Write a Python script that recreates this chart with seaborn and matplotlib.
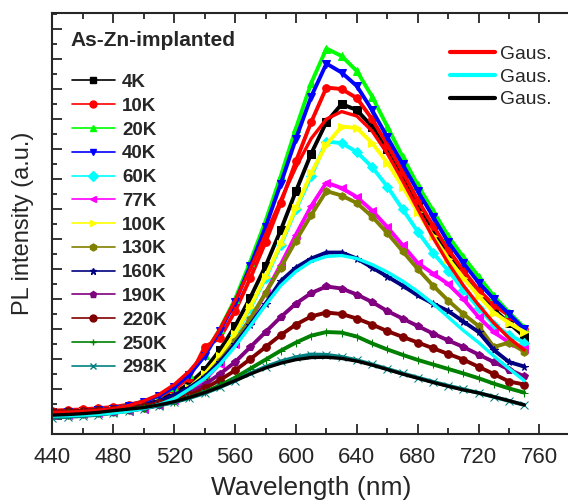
import numpy as np
import pandas as pd
import matplotlib
matplotlib.use("Agg")
import matplotlib.pyplot as plt
from matplotlib.lines import Line2D
import seaborn as sns

# wavelength grid (nm) and PL intensity (a.u.)
wl = [440, 450, 460, 470, 480, 490, 500, 510, 520, 530, 540, 550, 560, 570, 580, 590,
      600, 610, 620, 630, 640, 650, 660, 670, 680, 690, 700, 710, 720, 730, 740, 750]

k4 = [0.22, 0.24, 0.26, 0.30, 0.34, 0.41, 0.50, 0.64, 0.86, 1.18, 1.65, 2.30, 3.10, 4.05, 5.10, 6.30,
      7.60, 8.85, 9.90, 10.50, 10.30, 9.75, 9.00, 8.10, 7.15, 6.30, 5.50, 4.85, 4.20, 3.65, 3.20, 2.75]
k10 = [0.28, 0.30, 0.32, 0.36, 0.40, 0.48, 0.58, 0.75, 1.00, 1.38, 2.40, 2.70, 3.60, 4.70, 5.90, 7.20,
       8.60, 9.90, 11.05, 11.00, 10.70, 10.00, 9.15, 8.25, 7.30, 6.45, 5.65, 4.95, 4.30, 3.80, 3.45, 3.00]
k20 = [0.20, 0.22, 0.25, 0.30, 0.35, 0.45, 0.58, 0.78, 1.08, 1.50, 2.15, 3.00, 4.00, 5.25, 6.60, 8.10,
       9.70, 11.20, 12.35, 12.10, 11.60, 10.75, 9.75, 8.75, 7.80, 6.95, 6.10, 5.40, 4.75, 4.10, 3.55, 3.05]
k40 = [0.20, 0.22, 0.25, 0.30, 0.35, 0.45, 0.58, 0.78, 1.07, 1.48, 2.10, 2.95, 3.90, 5.10, 6.40, 7.85,
       9.35, 10.75, 11.85, 11.55, 11.10, 10.30, 9.40, 8.50, 7.60, 6.75, 5.90, 5.20, 4.55, 4.00, 3.50, 3.00]
k60 = [0.15, 0.17, 0.19, 0.22, 0.26, 0.32, 0.40, 0.52, 0.72, 1.00, 1.45, 2.05, 2.80, 3.70, 4.70, 5.80,
       7.00, 8.10, 9.25, 9.20, 8.90, 8.40, 7.75, 7.00, 6.25, 5.55, 4.95, 4.30, 3.70, 3.15, 2.80, 2.55]
k77 = [0.12, 0.14, 0.16, 0.19, 0.23, 0.28, 0.35, 0.46, 0.64, 0.90, 1.30, 1.85, 2.50, 3.30, 4.20, 5.15,
       6.15, 7.10, 7.88, 7.70, 7.40, 6.95, 6.40, 5.80, 5.20, 4.85, 4.50, 4.00, 3.40, 2.90, 2.55, 2.35]
k100 = [0.18, 0.20, 0.22, 0.25, 0.29, 0.35, 0.43, 0.55, 0.75, 1.05, 1.50, 2.10, 2.85, 3.75, 4.75, 5.85,
        7.05, 8.20, 9.15, 9.75, 9.70, 9.20, 8.55, 7.75, 6.90, 6.10, 5.35, 4.70, 4.10, 3.55, 3.20, 2.90]
k130 = [0.12, 0.14, 0.16, 0.19, 0.23, 0.29, 0.37, 0.50, 0.70, 0.98, 1.40, 1.95, 2.60, 3.35, 4.20, 5.05,
        5.95, 6.80, 7.60, 7.45, 7.20, 6.75, 6.20, 5.60, 5.00, 4.45, 3.95, 3.50, 3.10, 2.40, 2.55, 2.25]
k160 = [0.12, 0.14, 0.17, 0.21, 0.27, 0.35, 0.46, 0.60, 0.80, 1.05, 1.40, 1.90, 2.50, 3.15, 3.85, 4.60,
        5.05, 5.35, 5.55, 5.55, 5.35, 5.05, 4.75, 4.45, 4.12, 3.85, 3.60, 3.25, 2.90, 2.30, 1.90, 1.75]
k190 = [0.15, 0.16, 0.18, 0.21, 0.25, 0.30, 0.37, 0.47, 0.62, 0.85, 1.15, 1.50, 1.90, 2.40, 2.90, 3.40,
        3.85, 4.20, 4.42, 4.35, 4.15, 3.90, 3.60, 3.35, 3.10, 2.85, 2.62, 2.40, 2.15, 1.90, 1.65, 1.42]
k220 = [0.25, 0.26, 0.28, 0.30, 0.33, 0.38, 0.44, 0.53, 0.65, 0.80, 1.02, 1.30, 1.62, 2.00, 2.40, 2.80,
        3.15, 3.42, 3.55, 3.50, 3.35, 3.15, 2.93, 2.74, 2.55, 2.36, 2.17, 1.98, 1.74, 1.50, 1.25, 1.15]
k250 = [0.20, 0.21, 0.23, 0.25, 0.28, 0.32, 0.38, 0.46, 0.57, 0.72, 0.90, 1.12, 1.38, 1.68, 1.98, 2.28,
        2.55, 2.78, 2.90, 2.88, 2.75, 2.52, 2.32, 2.14, 1.97, 1.82, 1.67, 1.52, 1.36, 1.18, 1.02, 0.88]
k298 = [0.05, 0.07, 0.10, 0.14, 0.20, 0.27, 0.35, 0.45, 0.56, 0.70, 0.86, 1.06, 1.28, 1.52, 1.74, 1.92,
        2.06, 2.15, 2.14, 2.07, 1.96, 1.82, 1.67, 1.52, 1.38, 1.24, 1.11, 0.99, 0.87, 0.74, 0.60, 0.47]

# Gaussian fits
fit_red = [0.22, 0.23, 0.25, 0.29, 0.35, 0.45, 0.60, 0.82, 1.15, 1.60, 2.20, 3.00, 3.95, 5.00, 6.15, 7.30,
           8.40, 9.35, 10.00, 10.25, 10.10, 9.60, 8.85, 7.95, 7.00, 6.05, 5.20, 4.45, 3.80, 3.20, 2.70, 2.30]
fit_cyan = [0.10, 0.11, 0.13, 0.16, 0.20, 0.26, 0.35, 0.48, 0.68, 1.00, 1.35, 1.82, 2.42, 3.10, 3.80, 4.45,
            4.92, 5.25, 5.42, 5.45, 5.35, 5.15, 4.90, 4.60, 4.25, 3.85, 3.40, 2.95, 2.55, 2.10, 1.68, 1.28]
fit_black = [0.13, 0.15, 0.18, 0.22, 0.28, 0.33, 0.38, 0.47, 0.58, 0.72, 0.88, 1.07, 1.28, 1.50, 1.70, 1.86,
             1.98, 2.05, 2.06, 2.02, 1.93, 1.80, 1.65, 1.50, 1.36, 1.22, 1.09, 0.97, 0.87, 0.74, 0.61, 0.47]

labels = ["4K", "10K", "20K", "40K", "60K", "77K", "100K", "130K", "160K", "190K", "220K", "250K", "298K"]
series = [k4, k10, k20, k40, k60, k77, k100, k130, k160, k190, k220, k250, k298]
colors = ["#000000", "#FF0000", "#00FF00", "#0000FF", "#00FFFF", "#FF00FF", "#FFFF00",
          "#808000", "#000080", "#800080", "#800000", "#008000", "#008080"]
markers = ["s", "o", "^", "v", "D", "<", ">", "h", "*", "p", "o", "+", "x"]

sns.set_style("ticks")
plt.rcParams['font.family'] = ['Liberation Sans', 'DejaVu Sans']

fig = plt.figure(figsize=(5.68, 5.01), dpi=100)
ax = fig.add_axes([0.0924, 0.1337, 0.911, 0.840])

# measured spectra
for lab, y, c, m in zip(labels, series, colors, markers):
    df = pd.DataFrame({"wl": wl, "pl": y})
    sns.lineplot(data=df, x="wl", y="pl", ax=ax, color=c, marker=m, markersize=5.5,
                 markeredgecolor=c, linewidth=2.8, legend=False)

# gaussian fits on top
for y, c in zip([fit_red, fit_cyan, fit_black], ["#FF0000", "#00FFFF", "#000000"]):
    sns.lineplot(x=wl, y=y, ax=ax, color=c, linewidth=2.4, legend=False)

ax.set_xlim(440, 780)
ax.set_ylim(-0.5, 13.53)
ax.set_xticks(np.arange(440, 761, 40))
ax.set_xticks(np.arange(460, 781, 40), minor=True)
ax.set_yticks(np.arange(0, 14, 1))
ax.set_yticks(np.arange(0.5, 13.6, 1), minor=True)
ax.set_yticklabels([])
ax.tick_params(axis='x', which='major', direction='out', length=7, width=1.3, labelsize=16, pad=9)
ax.tick_params(axis='x', which='minor', direction='out', length=4, width=1.3)
ax.tick_params(axis='y', which='major', direction='out', length=7, width=1.3)
ax.tick_params(axis='y', which='minor', direction='out', length=3.5, width=1.3)
ax.tick_params(top=True, which='both', direction='in')
ax.tick_params(axis='x', which='both', bottom=True)
for s in ax.spines.values():
    s.set_linewidth(1.5)

ax.set_xlabel("Wavelength (nm)", fontsize=19, labelpad=6)
ax.set_ylabel("PL intensity (a.u.)", fontsize=17, labelpad=10)

# legends
fig.text(70 / 568, 1 - 40 / 501, "As-Zn-implanted", fontsize=15, fontweight='bold',
         ha='left', va='center')
h1 = [Line2D([], [], color=c, marker=m, markersize=5, linewidth=1.2, markeredgecolor=c)
      for c, m in zip(colors, markers)]
leg1 = ax.legend(h1, labels, loc="upper left",
                 bbox_to_anchor=(55 / 568, 1 - 57 / 501), bbox_transform=fig.transFigure,
                 frameon=False, prop={'weight': 'bold', 'size': 13.5},
                 handlelength=2.3, handletextpad=0.37, labelspacing=0.355)
ax.add_artist(leg1)

h2 = [Line2D([], [], color=c, linewidth=3) for c in ["#FF0000", "#00FFFF", "#000000"]]
ax.legend(h2, ["Gaus.", "Gaus.", "Gaus."], loc="upper left",
          bbox_to_anchor=(433 / 568, 1 - 28 / 501), bbox_transform=fig.transFigure,
          frameon=False, prop={'size': 13.9}, handlelength=2.33, handletextpad=0.26,
          labelspacing=0.27)

fig.savefig("out.png", dpi=100)
